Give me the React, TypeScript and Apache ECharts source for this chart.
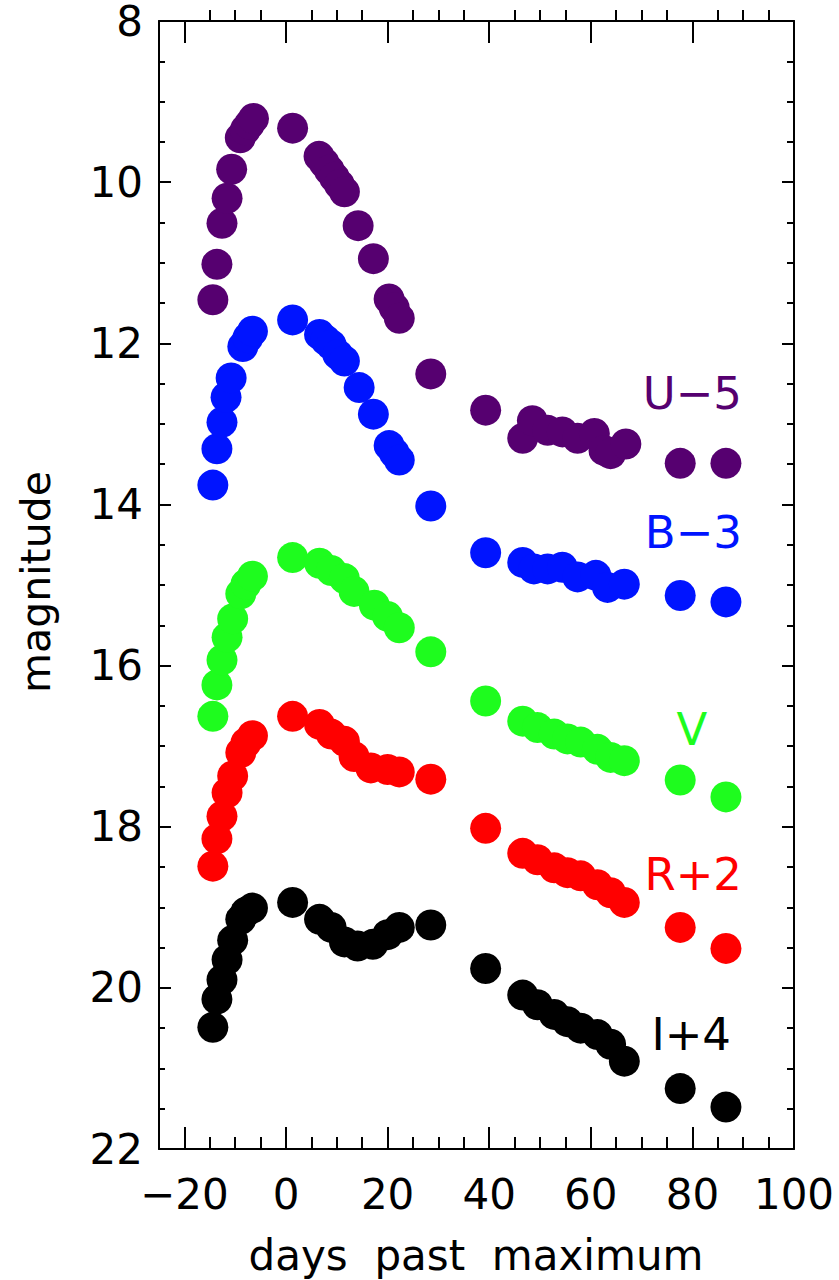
import React, { useEffect, useRef } from "react";
import * as echarts from "echarts";

const uDays = [-14.4, -13.6, -12.6, -11.6, -10.7, -9.0, -8.0, -7.2, -6.4, 1.3, 6.5, 7.5, 8.5, 9.5, 10.5, 11.5, 14.2, 17.2, 20.3, 21.3, 22.3, 28.5, 39.3, 46.6, 48.5, 51.5, 54.4, 57.4, 60.7, 62.6, 63.9, 66.9, 77.6, 86.6];
const uMag = [11.46, 11.02, 10.51, 10.2, 9.84, 9.45, 9.35, 9.28, 9.21, 9.33, 9.68, 9.76, 9.85, 9.94, 10.03, 10.12, 10.54, 10.95, 11.45, 11.56, 11.69, 12.38, 12.83, 13.18, 12.96, 13.08, 13.1, 13.18, 13.12, 13.33, 13.37, 13.25, 13.49, 13.49];

const bDays = [-14.4, -13.6, -12.6, -11.8, -10.8, -8.5, -7.5, -6.6, 1.3, 6.6, 7.8, 8.9, 10.2, 11.5, 14.4, 17.2, 20.3, 21.3, 22.3, 28.5, 39.3, 46.6, 48.8, 51.5, 54.4, 57.4, 61.0, 63.3, 66.6, 77.6, 86.6];
const bMag = [13.76, 13.31, 12.98, 12.67, 12.43, 12.04, 11.93, 11.85, 11.71, 11.89, 11.96, 12.02, 12.14, 12.22, 12.55, 12.88, 13.27, 13.36, 13.45, 14.02, 14.6, 14.72, 14.8, 14.8, 14.78, 14.9, 14.88, 15.03, 14.99, 15.13, 15.21];

const vDays = [-14.4, -13.6, -12.6, -11.6, -10.5, -8.9, -7.9, -6.6, 1.3, 6.6, 8.9, 11.5, 13.4, 17.4, 20.0, 22.3, 28.5, 39.3, 46.6, 49.5, 52.8, 55.4, 58.0, 61.3, 63.9, 66.6, 77.6, 86.6];
const vMag = [16.63, 16.24, 15.93, 15.65, 15.42, 15.11, 14.99, 14.89, 14.66, 14.73, 14.82, 14.92, 15.08, 15.25, 15.39, 15.53, 15.83, 16.44, 16.69, 16.77, 16.85, 16.91, 16.95, 17.04, 17.14, 17.18, 17.42, 17.63];

const rDays = [-14.4, -13.6, -12.6, -11.6, -10.5, -8.9, -7.9, -6.6, 1.3, 6.6, 8.9, 11.5, 13.4, 16.7, 20.0, 22.3, 28.5, 39.3, 46.6, 49.5, 52.8, 55.4, 58.0, 61.3, 63.9, 66.6, 77.6, 86.6];
const rMag = [18.49, 18.15, 17.87, 17.58, 17.37, 17.08, 16.96, 16.87, 16.63, 16.73, 16.85, 16.94, 17.13, 17.27, 17.29, 17.32, 17.41, 18.02, 18.33, 18.41, 18.51, 18.57, 18.61, 18.72, 18.82, 18.94, 19.25, 19.51];

const iDays = [-14.4, -13.6, -12.6, -11.6, -10.5, -8.9, -7.9, -6.6, 1.3, 6.6, 8.9, 11.5, 14.1, 17.1, 20.0, 22.3, 28.5, 39.3, 46.6, 49.5, 52.8, 55.4, 58.0, 61.3, 63.9, 66.6, 77.6, 86.6];
const iMag = [20.49, 20.14, 19.9, 19.65, 19.41, 19.15, 19.06, 19.01, 18.94, 19.15, 19.25, 19.43, 19.48, 19.46, 19.34, 19.25, 19.22, 19.76, 20.09, 20.21, 20.33, 20.42, 20.5, 20.58, 20.7, 20.91, 21.25, 21.48];

const bandNames = ["U\u22125", "B\u22123", "V", "R+2", "I+4"];
const bandColors = ["#560070", "#0014ff", "#1efc1e", "#ff0000", "#000000"];

const xMajorTicks = [-20, 0, 20, 40, 60, 80, 100];
const xMinorTicks = [-15, -10, -5, 5, 10, 15, 25, 30, 35, 45, 50, 55, 65, 70, 75, 85, 90, 95];

const FONT = "DejaVu Sans";

function pairs(d: number[], m: number[]) {
  return d.map((v, i) => [v, m[i]]);
}

export default function App() {
  const ref = useRef<HTMLDivElement>(null);
  useEffect(() => {
    if (!ref.current) return;
    const chart = echarts.init(ref.current, null, { renderer: "svg" });
    const lineStyle = { color: "#000", width: 2 };
    const noLine = { show: true, onZero: false, lineStyle: { color: "rgba(0,0,0,0)", width: 0 } };
    const xBase = {
      type: "value",
      min: -25,
      max: 100,
      splitLine: { show: false },
    };
    const yBase = {
      type: "value",
      min: 8,
      max: 22,
      interval: 2,
      inverse: true,
      splitLine: { show: false },
      minorSplitLine: { show: false },
    };
    const sets = [
      pairs(uDays, uMag),
      pairs(bDays, bMag),
      pairs(vDays, vMag),
      pairs(rDays, rMag),
      pairs(iDays, iMag),
    ];
    const labelPos = [
      { x: 742, y: 393, align: "right" },
      { x: 742, y: 532, align: "right" },
      { x: 692, y: 729, align: "center" },
      { x: 742, y: 874, align: "right" },
      { x: 731, y: 1034, align: "right" },
    ];
    const gridBox = { left: 159, right: 45, top: 10, bottom: 131, containLabel: false };
    chart.setOption({
      animation: false,
      backgroundColor: "#fff",
      grid: [gridBox, gridBox],
      xAxis: [
        {
          ...xBase,
          gridIndex: 0,
          position: "bottom",
          axisLine: { show: true, onZero: false, lineStyle },
          axisTick: { show: true, inside: true, length: 22, lineStyle, customValues: xMajorTicks },
          axisLabel: {
            show: true,
            customValues: xMajorTicks,
            margin: 24,
            color: "#000",
            fontFamily: FONT,
            fontSize: 42,
            formatter: (v: number) => (v < 0 ? "\u2212" + Math.abs(v) : String(v)),
          },
        },
        {
          ...xBase,
          gridIndex: 0,
          position: "top",
          axisLine: { show: true, onZero: false, lineStyle },
          axisTick: { show: true, inside: true, length: 22, lineStyle, customValues: xMajorTicks },
          axisLabel: { show: false, customValues: xMajorTicks },
        },
        {
          ...xBase,
          gridIndex: 1,
          position: "bottom",
          axisLine: noLine,
          axisTick: { show: true, inside: true, length: 12, lineStyle, customValues: xMinorTicks },
          axisLabel: { show: false, customValues: xMinorTicks },
        },
        {
          ...xBase,
          gridIndex: 1,
          position: "top",
          axisLine: noLine,
          axisTick: { show: true, inside: true, length: 12, lineStyle, customValues: xMinorTicks },
          axisLabel: { show: false, customValues: xMinorTicks },
        },
      ],
      yAxis: [
        {
          ...yBase,
          gridIndex: 0,
          position: "left",
          axisLine: { show: true, onZero: false, lineStyle },
          axisTick: { show: true, inside: true, length: 12, lineStyle },
          minorTick: { show: true, splitNumber: 4, length: 6, lineStyle },
          axisLabel: {
            show: true,
            margin: 16,
            color: "#000",
            fontFamily: FONT,
            fontSize: 42,
            lineHeight: 20,
          },
        },
        {
          ...yBase,
          gridIndex: 0,
          position: "right",
          axisLine: { show: true, onZero: false, lineStyle },
          axisTick: { show: true, inside: true, length: 12, lineStyle },
          minorTick: { show: true, splitNumber: 4, length: 7, lineStyle },
          axisLabel: { show: false },
        },
        {
          ...yBase,
          gridIndex: 1,
          show: false,
        },
      ],
      series: sets.map((data, i) => ({
        name: bandNames[i],
        type: "scatter",
        xAxisIndex: 0,
        yAxisIndex: 0,
        symbol: "circle",
        symbolSize: 31,
        itemStyle: { color: bandColors[i], opacity: 1 },
        data,
      })),
      graphic: [
        ...bandNames.map((t, i) => ({
          type: "text",
          x: labelPos[i].x,
          y: labelPos[i].y,
          style: {
            text: t,
            fill: bandColors[i],
            fontFamily: FONT,
            fontSize: 45,
            textAlign: labelPos[i].align,
            textVerticalAlign: "middle",
            align: labelPos[i].align,
            verticalAlign: "middle",
          },
        })),
        {
          type: "text",
          x: 476,
          y: 1255,
          style: {
            text: "days  past  maximum",
            fill: "#000",
            fontFamily: FONT,
            fontSize: 42,
            textAlign: "center",
            textVerticalAlign: "middle",
            align: "center",
            verticalAlign: "middle",
          },
        },
        {
          type: "text",
          x: 36,
          y: 582,
          rotation: Math.PI / 2,
          style: {
            text: "magnitude",
            fill: "#000",
            fontFamily: FONT,
            fontSize: 41,
            textAlign: "center",
            textVerticalAlign: "middle",
            align: "center",
            verticalAlign: "middle",
          },
        },
      ],
    });
    return () => chart.dispose();
  }, []);
  return (
    <div
      ref={ref}
      style={{ position: "absolute", left: 0, top: 0, width: 839, height: 1280, background: "#fff" }}
    />
  );
}
